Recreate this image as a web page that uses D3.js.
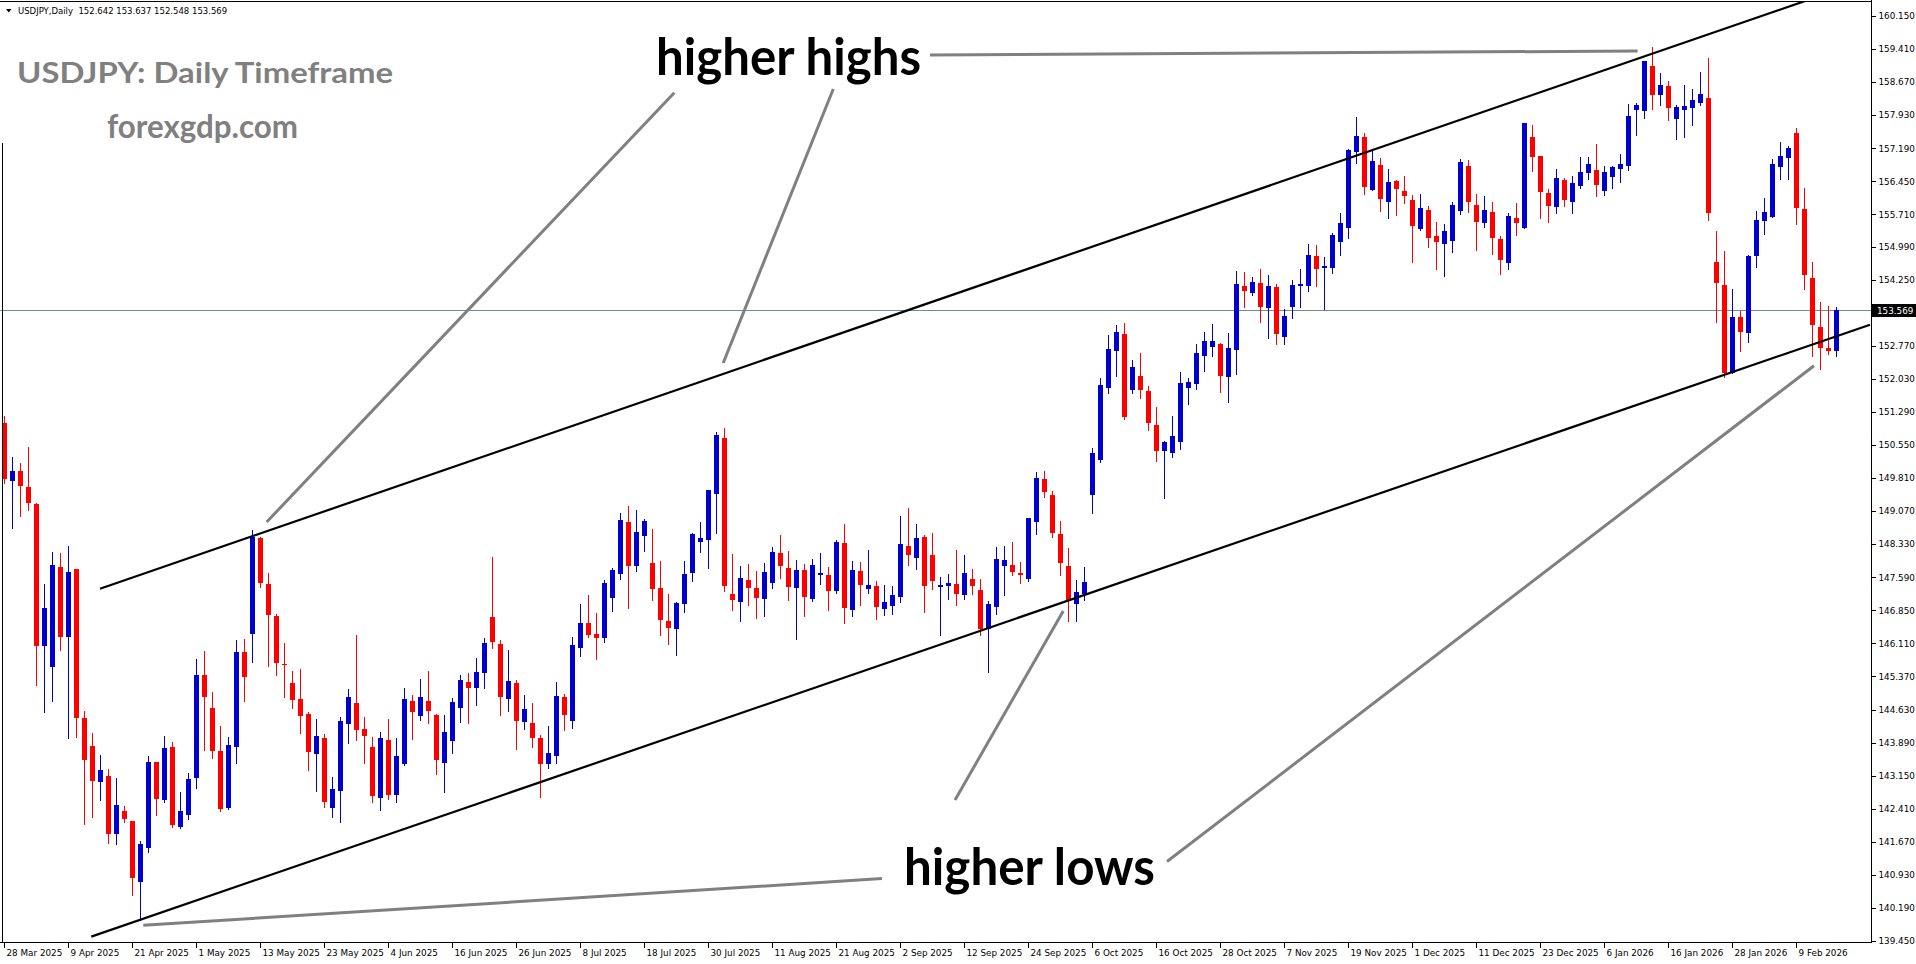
<!DOCTYPE html>
<html><head><meta charset="utf-8">
<script src="https://cdn.jsdelivr.net/npm/d3@7/dist/d3.min.js"></script>
<style>html,body{margin:0;padding:0;background:#fff;overflow:hidden}</style>
</head><body>
<svg id="chart" width="1916" height="964"></svg>
<script>
// ---- data (USDJPY daily OHLC) ----
const opens = [151.05,149.75,149.96,149.61,149.23,146.06,145.59,147.82,146.25,147.77,
144.45,143.81,143.00,143.14,141.85,142.36,142.14,140.78,141.54,143.46,
142.61,143.79,142.00,142.27,143.10,145.40,144.67,143.71,142.43,143.80,
145.91,146.32,148.47,147.44,146.72,145.65,145.23,144.87,144.53,143.64,
143.99,142.43,142.81,144.31,144.77,144.19,143.79,142.66,143.95,142.72,
143.40,144.82,144.49,144.82,144.51,143.44,143.93,144.67,145.25,145.10,
145.45,146.69,146.10,144.87,145.22,144.36,144.33,143.99,143.40,143.60,
144.92,144.38,146.01,146.57,146.32,146.24,147.13,147.67,148.83,147.83,
148.52,147.91,147.35,146.62,146.43,146.98,147.69,148.38,148.42,149.45,
150.71,147.22,147.04,147.53,147.35,147.10,147.46,148.13,147.80,147.35,
147.75,147.10,147.64,147.64,147.28,148.36,146.86,147.73,147.33,147.39,
146.88,146.95,147.15,148.29,148.02,148.49,148.09,147.37,147.39,147.44,
147.20,147.55,147.30,146.44,146.93,147.84,147.86,147.68,147.56,148.83,
149.79,149.43,148.56,147.84,147.00,147.21,149.44,150.21,151.83,152.66,
153.03,151.78,152.09,151.76,151.00,150.42,150.38,150.62,151.83,151.92,
152.53,152.75,152.81,152.06,152.68,154.11,153.95,154.17,153.61,154.08,
152.97,153.64,154.11,154.11,154.78,154.52,154.51,155.09,155.40,157.10,
157.44,156.25,156.81,155.99,156.46,156.23,156.03,155.38,155.81,155.23,
155.05,155.11,155.78,156.79,155.92,155.52,155.76,155.16,154.62,155.63,
155.40,157.44,157.02,156.19,155.88,156.48,155.99,156.35,156.64,156.70,
156.24,156.55,156.73,156.79,158.05,158.03,159.03,158.39,158.58,157.85,
158.05,158.08,158.21,158.31,154.64,154.13,152.17,153.42,153.06,154.78,
155.57,155.66,156.76,156.98,157.53,155.83,154.29,153.20,152.72,152.642];
const highs = [151.20,150.28,150.14,150.51,149.26,147.44,148.16,148.13,148.29,147.78,
144.59,144.10,143.61,143.30,143.10,142.47,142.14,141.68,143.59,143.46,
144.04,143.90,142.78,143.21,145.76,145.94,145.03,144.27,144.01,146.18,
146.20,148.65,148.48,147.69,146.77,146.12,145.49,145.53,144.57,144.41,
144.08,143.11,144.47,145.09,146.30,144.47,144.02,144.13,144.42,143.99,
145.12,144.95,145.32,145.50,144.54,144.51,144.89,145.40,145.45,145.78,
146.23,148.05,146.19,145.96,145.29,144.95,144.78,144.06,144.27,145.25,
144.98,146.25,146.99,147.20,146.80,147.52,147.80,149.03,149.18,149.09,
148.89,148.67,147.95,147.22,147.04,147.95,148.57,148.83,149.54,150.84,
150.93,148.11,147.84,147.89,147.73,147.91,148.27,148.54,148.18,147.98,
147.89,148.00,148.13,147.82,148.42,148.78,147.95,147.93,148.20,147.51,
147.42,147.39,148.96,149.14,148.78,148.54,148.58,147.60,147.66,148.20,
148.09,147.77,147.55,147.06,148.27,148.29,148.38,147.93,148.92,149.94,
149.97,149.52,148.85,148.24,147.53,147.82,150.48,152.05,153.02,153.24,
153.28,152.45,152.61,151.87,151.40,150.64,151.20,152.18,152.05,152.81,
153.08,153.26,152.83,153.06,154.44,154.42,154.31,154.49,154.35,154.15,
153.59,154.24,154.49,155.05,155.02,154.76,155.29,155.74,157.17,157.89,
157.53,157.17,156.97,156.72,156.47,156.57,156.14,156.17,155.90,155.54,
155.49,155.99,156.95,156.93,156.17,156.12,155.99,155.23,155.74,155.96,
157.75,157.71,157.02,156.28,156.72,156.52,156.57,156.99,156.99,157.28,
156.79,156.79,157.06,158.18,158.20,159.15,159.46,158.87,158.69,158.16,
158.60,158.52,158.90,159.21,155.34,154.89,154.05,153.55,154.79,155.79,
156.08,156.95,157.33,157.24,157.64,156.31,154.64,153.75,153.66,153.637];
const lows = [149.69,148.69,148.97,149.10,145.18,144.57,144.83,145.96,144.00,144.02,
142.07,142.23,142.61,141.65,141.63,142.12,140.49,139.92,141.45,142.28,
142.55,142.00,141.98,142.18,142.88,143.73,143.55,142.37,142.41,143.43,
144.83,145.69,147.38,145.61,145.41,144.91,144.67,144.10,143.28,142.80,
142.44,142.23,142.12,143.87,143.95,143.44,142.55,142.38,142.62,142.55,
143.39,143.97,144.40,144.33,143.19,142.78,143.66,144.35,144.33,144.74,
145.12,146.01,144.51,144.60,143.75,144.19,143.78,142.68,143.33,143.44,
144.18,144.22,145.83,146.26,145.75,146.13,146.83,147.55,146.91,147.72,
148.18,147.08,146.30,146.10,145.85,146.81,147.51,148.16,147.80,148.59,
147.28,146.86,146.61,146.97,146.68,146.72,147.35,147.57,147.08,146.21,
146.72,147.06,147.44,146.86,147.24,146.57,146.72,146.97,147.24,146.66,
146.75,146.77,147.04,147.86,147.77,146.81,147.33,146.30,147.10,146.97,
147.11,147.22,146.29,145.48,146.77,147.20,147.64,147.47,147.51,148.56,
149.39,148.48,147.65,146.60,146.60,147.09,149.03,150.17,151.72,152.10,
151.13,151.72,151.59,150.89,150.20,149.37,150.27,150.46,151.47,151.81,
152.21,152.55,151.74,151.52,152.14,153.64,153.91,153.30,152.94,152.81,
152.81,153.39,153.64,153.99,154.11,153.59,154.40,154.80,155.18,156.86,
156.17,156.25,155.78,155.63,155.70,155.96,154.64,155.36,154.98,154.49,
154.33,154.87,155.72,155.76,154.91,155.43,154.82,154.38,154.49,155.25,
155.40,156.68,155.63,155.54,155.74,155.90,155.73,156.29,156.51,156.11,
156.15,156.29,156.43,156.71,157.49,157.87,158.07,158.16,157.81,157.40,
157.44,157.71,158.16,155.59,153.29,152.08,152.15,152.65,152.86,154.54,
155.28,155.66,156.51,156.49,155.50,154.05,152.55,152.26,152.59,152.548];
const closes = [149.79,149.96,149.62,149.26,146.06,146.90,147.87,146.25,147.71,144.45,
143.49,143.02,143.28,141.85,142.49,142.18,140.87,141.61,143.46,142.63,
143.76,142.04,142.37,143.08,145.40,144.91,143.71,142.40,143.83,145.92,
145.36,148.50,147.46,146.75,145.68,145.62,144.85,144.49,143.67,144.04,
142.57,142.85,144.37,144.90,144.17,144.04,142.70,143.99,142.72,143.59,
144.86,144.58,144.91,144.60,143.50,144.13,144.80,145.29,145.12,145.47,
146.12,146.15,144.90,145.27,144.38,144.64,144.00,143.42,143.66,144.93,
144.51,146.07,146.57,146.30,146.24,147.46,147.75,148.86,147.85,148.60,
148.85,147.33,146.63,146.45,147.01,147.66,148.56,148.47,149.54,150.77,
147.40,147.08,147.57,147.35,147.13,147.71,148.16,147.84,147.37,147.75,
147.15,147.86,147.69,147.28,148.38,146.90,147.75,147.42,147.42,146.92,
147.04,147.19,148.33,148.09,148.47,147.39,147.51,147.42,147.46,147.22,
147.68,147.40,146.44,146.99,148.00,147.98,147.71,147.65,148.92,149.81,
149.50,148.59,147.91,147.06,147.26,147.48,150.37,151.89,152.70,153.08,
151.18,152.29,151.79,151.05,150.42,150.62,150.75,151.94,151.96,152.61,
152.88,152.88,152.10,152.72,154.15,153.99,154.20,153.64,154.11,153.03,
153.44,154.13,154.15,154.80,154.49,154.55,155.25,155.52,157.15,157.46,
156.32,156.90,156.05,156.43,156.28,156.12,155.45,155.85,155.18,155.09,
155.34,155.92,156.88,155.99,155.54,155.81,155.18,154.69,155.67,155.52,
157.75,156.99,156.21,155.90,156.52,156.02,156.41,156.66,156.84,156.37,
156.66,156.76,156.84,157.91,158.16,159.14,158.39,158.60,158.10,158.11,
158.13,158.27,158.40,155.75,154.18,152.15,153.42,153.08,154.78,155.58,
155.76,156.84,157.02,157.20,155.86,154.36,153.24,152.73,152.66,153.569];

const dateLabels = ["28 Mar 2025","9 Apr 2025","21 Apr 2025","1 May 2025","13 May 2025","23 May 2025",
"4 Jun 2025","16 Jun 2025","26 Jun 2025","8 Jul 2025","18 Jul 2025","30 Jul 2025","11 Aug 2025",
"21 Aug 2025","2 Sep 2025","12 Sep 2025","24 Sep 2025","6 Oct 2025","16 Oct 2025","28 Oct 2025",
"7 Nov 2025","19 Nov 2025","1 Dec 2025","11 Dec 2025","23 Dec 2025","6 Jan 2026","16 Jan 2026",
"28 Jan 2026","9 Feb 2026"];
const dateTickIndex = [0,8,16,24,32,40,48,56,64,72,80,88,96,104,112,120,128,136,144,152,160,168,176,184,192,200,208,216,224];
const priceTicks = [160.150,159.410,158.670,157.930,157.190,156.450,155.710,154.990,154.250,
152.770,152.030,151.290,150.550,149.810,149.070,148.330,147.590,146.850,146.110,145.370,
144.630,143.890,143.150,142.410,141.670,140.930,140.190,139.450];
const lastPrice = 153.569;
const headerText = "USDJPY,Daily  152.642 153.637 152.548 153.569";

// channel lines [bar index, price]
const upperChannel = [[12, 147.333], [225.5, 160.506]];
const lowerChannel = [[10.91, 139.548], [233.25, 153.240]];
// grey pointer lines [bar index, price]
const pointerLines = [
  [[83.79, 158.432], [32.84, 148.826]],
  [[103.66, 158.515], [89.9, 152.384]],
  [[115.75, 159.275], [204.2, 159.365]],
  [[132.41, 146.834], [118.88, 142.605]],
  [[17.41, 139.800], [109.75, 140.846]],
  [[145.38, 141.229], [226.25, 152.323]]
];

// ---- drawing ----
const W = 1916, H = 964;
const plotRight = 1871, plotBottom = 943;
const BLUE = "#0000CD", RED = "#FF0000";
const svg = d3.select("#chart");
svg.append("rect").attr("width", W).attr("height", H).attr("fill", "#fff");

const x = d3.scaleLinear().domain([0, 229]).range([4, 4 + 8 * 229]);
const y = d3.scaleLinear().domain([139.45, 160.15]).range([941.0, 15.9]);

const defs = svg.append("defs");
defs.append("clipPath").attr("id", "plotclip").append("rect")
  .attr("x", 3).attr("y", 2).attr("width", plotRight - 3).attr("height", plotBottom - 2);

// current price line
svg.append("line").attr("x1", 0).attr("x2", plotRight)
  .attr("y1", Math.round(y(lastPrice)) + 0.5).attr("y2", Math.round(y(lastPrice)) + 0.5)
  .attr("stroke", "#778899").attr("stroke-width", 1).attr("shape-rendering", "crispEdges");

// candles
const idx = d3.range(opens.length);
const col = i => closes[i] >= opens[i] ? BLUE : RED;
const cg = svg.append("g").attr("clip-path", "url(#plotclip)");
cg.selectAll("line.wick").data(idx).join("line").attr("class", "wick")
  .attr("x1", i => Math.round(x(i)) + 0.5).attr("x2", i => Math.round(x(i)) + 0.5)
  .attr("y1", i => Math.round(y(highs[i]))).attr("y2", i => Math.round(y(lows[i])) + 1)
  .attr("stroke", col).attr("stroke-width", 1).attr("shape-rendering", "crispEdges");
cg.selectAll("rect.body").data(idx).join("rect").attr("class", "body")
  .attr("x", i => Math.round(x(i)) - 2).attr("width", 5)
  .attr("y", i => Math.round(y(Math.max(opens[i], closes[i]))))
  .attr("height", i => Math.max(1, Math.round(y(Math.min(opens[i], closes[i]))) - Math.round(y(Math.max(opens[i], closes[i])))))
  .attr("fill", col).attr("shape-rendering", "crispEdges");

// channel lines
const lg = svg.append("g").attr("clip-path", "url(#plotclip)");
const lineGen = d3.line().x(d => x(d[0])).y(d => y(d[1]));
[upperChannel, lowerChannel].forEach(l => {
  lg.append("path").attr("d", lineGen(l)).attr("fill", "none")
    .attr("stroke", "#000").attr("stroke-width", 2.2);
});
// pointer lines
pointerLines.forEach(l => {
  svg.append("path").attr("d", lineGen(l)).attr("fill", "none")
    .attr("stroke", "#808080").attr("stroke-width", 3);
});

// frame
svg.append("line").attr("x1", 0).attr("x2", plotRight + 1).attr("y1", 1.5).attr("y2", 1.5)
  .attr("stroke", "#000").attr("shape-rendering", "crispEdges");
svg.append("line").attr("x1", 2.5).attr("x2", 2.5).attr("y1", 143).attr("y2", plotBottom)
  .attr("stroke", "#000").attr("shape-rendering", "crispEdges");

// axes
const yAxis = d3.axisRight(y).tickValues(priceTicks).tickSize(4).tickPadding(3)
  .tickFormat(d3.format(".3f"));
const ya = svg.append("g").attr("transform", `translate(${plotRight + 0.5},0)`).call(yAxis);
ya.select(".domain").attr("d", `M0,0V${plotBottom}`).attr("stroke", "#000");
ya.selectAll("line").attr("stroke", "#000").attr("shape-rendering", "crispEdges");
ya.selectAll("text").attr("font-family", "DejaVu Sans").attr("font-size", 8.8).attr("fill", "#000");

const xAxis = d3.axisBottom(x).tickValues(dateTickIndex).tickSize(5)
  .tickFormat((d, k) => dateLabels[k]);
const xa = svg.append("g").attr("transform", `translate(0,${plotBottom - 0.5})`).call(xAxis);
xa.select(".domain").attr("d", `M0,0H${plotRight + 1}`).attr("stroke", "#000");
xa.selectAll("line").attr("stroke", "#000").attr("shape-rendering", "crispEdges");
xa.selectAll("text").attr("font-family", "DejaVu Sans").attr("font-size", 8.8).attr("fill", "#000")
  .attr("text-anchor", "start").attr("x", 2).attr("y", 13).attr("dy", null);

// last price label
const ly = Math.round(y(lastPrice)) + 0.5;
svg.append("rect").attr("x", plotRight + 1).attr("y", ly - 6.5).attr("width", W - plotRight - 1).attr("height", 13).attr("fill", "#000");
svg.append("text").attr("x", plotRight + 6).attr("y", ly).attr("dy", "0.35em")
  .attr("font-family", "DejaVu Sans").attr("font-size", 8.8).attr("fill", "#fff").text(d3.format(".3f")(lastPrice));

// header
svg.append("path").attr("d", "M6,9 L11.5,9 L8.75,12.5 Z").attr("fill", "#000");
svg.append("text").attr("x", 18).attr("y", 13.5).attr("font-family", "DejaVu Sans").attr("font-size", 8.5)
  .attr("fill", "#000").attr("xml:space", "preserve").style("white-space", "pre").text(headerText);

// titles & annotations
function label(t, px, py, size, len, fill) {
  svg.append("text").attr("x", px).attr("y", py).attr("font-family", "Lato").attr("font-weight", "bold")
    .attr("font-size", size).attr("fill", fill).attr("textLength", len).attr("lengthAdjust", "spacingAndGlyphs").text(t);
}
label("USDJPY: Daily Timeframe", 17, 83, 29, 376, "#808080");
label("forexgdp.com", 107, 138, 33, 191, "#808080");
label("higher highs", 656, 75, 52, 265, "#000");
label("higher lows", 904, 885, 52, 251, "#000");
</script>
</body></html>
